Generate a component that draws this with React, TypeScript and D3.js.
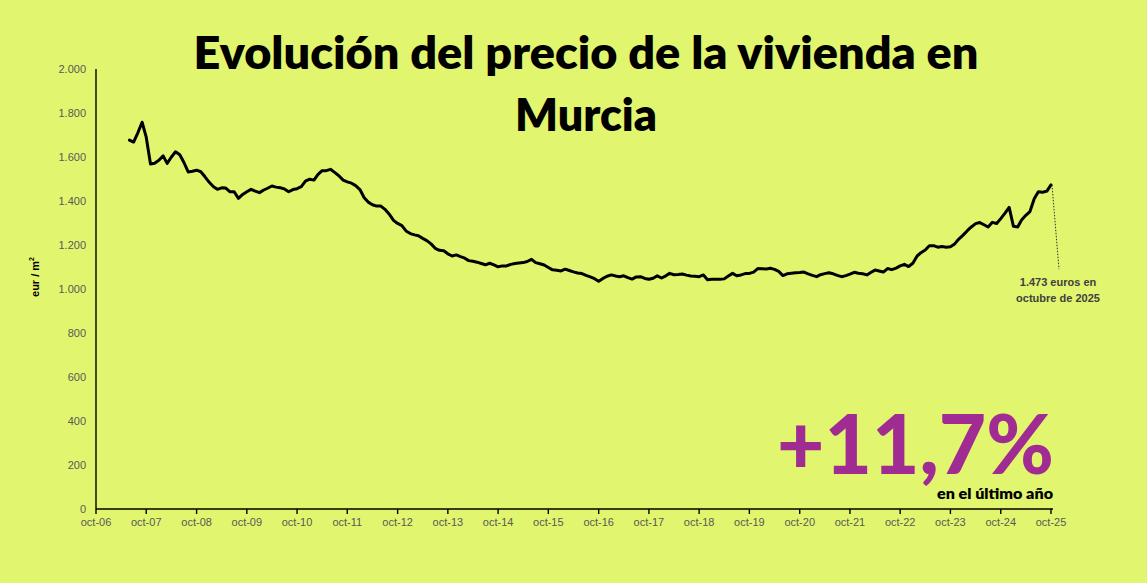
import React from "react";
import * as d3 from "d3";

const W = 1147;
const H = 583;

const titleLines = ["Evolución del precio de la vivienda en", "Murcia"];
const startMonth = "2007-06";
// Monthly €/m² values, Jun 2007 – Oct 2025
const prices = [
  1677, 1668, 1710, 1758, 1690, 1568, 1572, 1585, 1605, 1571, 1600, 1624, 1610, 1575, 1532, 1535,
  1540, 1533, 1510, 1485, 1465, 1453, 1460, 1459, 1442, 1442, 1412, 1430, 1442, 1453, 1445, 1438,
  1450, 1458, 1468, 1463, 1460, 1455, 1442, 1452, 1456, 1465, 1490, 1499, 1495, 1520, 1538, 1538,
  1544, 1530, 1515, 1495, 1487, 1481, 1470, 1452, 1415, 1395, 1383, 1377, 1377, 1362, 1340, 1312,
  1298, 1288, 1264, 1252, 1246, 1242, 1230, 1220, 1205, 1185, 1176, 1174, 1160, 1150, 1155, 1147,
  1140, 1129, 1126, 1122, 1116, 1110, 1117, 1110, 1101, 1105, 1105, 1112, 1116, 1118, 1120, 1125,
  1135, 1120, 1115, 1109, 1098, 1087, 1085, 1082, 1090, 1084, 1078, 1073, 1070, 1062, 1055, 1047,
  1035, 1048, 1058, 1064, 1059, 1056, 1060, 1052, 1045, 1055, 1056, 1048, 1044, 1049, 1060, 1050,
  1060, 1071, 1065, 1066, 1068, 1063, 1059, 1058, 1056, 1064, 1042, 1044, 1044, 1044, 1046, 1059,
  1071, 1060, 1064, 1070, 1071, 1077, 1093, 1092, 1091, 1094, 1089, 1080, 1061, 1069, 1072, 1074,
  1075, 1077, 1069, 1062, 1056, 1065, 1070, 1074, 1069, 1062, 1056, 1061, 1068, 1076, 1072, 1069,
  1064, 1075, 1086, 1082, 1077, 1093, 1088, 1095, 1105, 1112, 1102, 1117, 1150, 1165, 1177, 1197,
  1197, 1190, 1193, 1190, 1192, 1205, 1227, 1245, 1265, 1282, 1297, 1302, 1292, 1282, 1303, 1298,
  1320, 1345, 1371, 1285, 1282, 1314, 1335, 1352, 1410, 1442, 1440, 1445, 1473,
];
const yTicks = [0, 200, 400, 600, 800, 1000, 1200, 1400, 1600, 1800, 2000];
const xTickYears = d3.range(2006, 2026);
const yAxisTitle = "eur / m";
const annotationLines = ["1.473 euros en", "octubre de 2025"];
const bigFigure = "+11,7%";
const bigFigureCaption = "en el último año";

const fmtThousands = (v: number) =>
  v >= 1000 ? `${Math.floor(v / 1000)}.${String(v % 1000).padStart(3, "0")}` : String(v);

export default function App() {
  const start = d3.timeParse("%Y-%m")(startMonth)!;
  const data = prices.map((v, i) => ({ date: d3.timeMonth.offset(start, i), v }));

  const x = d3
    .scaleTime()
    .domain([new Date(2006, 9, 1), new Date(2025, 9, 1)])
    .range([96, 1051]);
  const y = d3.scaleLinear().domain([0, 2000]).range([509, 69]);

  const line = d3
    .line<{ date: Date; v: number }>()
    .x((d) => x(d.date))
    .y((d) => y(d.v));

  const last = data[data.length - 1];
  const lx = x(last.date);
  const ly = y(last.v);

  const axisFont = "'Liberation Sans', Arial, sans-serif";
  const gray = "#595959";

  return (
    <svg width={W} height={H} style={{ display: "block", position: "absolute", left: 0, top: 0 }}>
      <rect x={0} y={0} width={W} height={H} fill="#e1f56e" />

      {/* Title */}
      <g fontFamily="Lato, 'Open Sans', sans-serif" fontWeight={800} fill="#000" textAnchor="middle">
        <text x={586} y={69} fontSize={46} textLength={785} lengthAdjust="spacingAndGlyphs">
          {titleLines[0]}
        </text>
        <text x={586} y={131} fontSize={46} textLength={142} lengthAdjust="spacingAndGlyphs">
          {titleLines[1]}
        </text>
      </g>

      {/* Y axis */}
      <line x1={96} x2={96} y1={y(2000)} y2={y(0)} stroke="#000" strokeWidth={1.4} />
      {yTicks.map((t) => (
        <text
          key={t}
          x={86}
          y={y(t) + 4}
          textAnchor="end"
          fontFamily={axisFont}
          fontSize={11}
          fill={gray}
        >
          {fmtThousands(t)}
        </text>
      ))}
      <text
        transform={`translate(39, 277) rotate(-90)`}
        textAnchor="middle"
        fontFamily={axisFont}
        fontSize={11}
        fontWeight={700}
        fill="#000"
      >
        {yAxisTitle}
        <tspan fontSize={7} dy={-5}>
          2
        </tspan>
      </text>

      {/* X axis */}
      <line x1={96} x2={1053} y1={509} y2={509} stroke="#000" strokeWidth={1.4} />
      {xTickYears.map((yr) => {
        const tx = x(new Date(yr, 9, 1));
        return (
          <g key={yr}>
            <line x1={tx} x2={tx} y1={509} y2={514} stroke="#000" strokeWidth={1.4} />
            <text
              x={tx}
              y={526}
              textAnchor="middle"
              fontFamily={axisFont}
              fontSize={11}
              fill={gray}
            >
              {`oct-${String(yr % 100).padStart(2, "0")}`}
            </text>
          </g>
        );
      })}

      {/* Line */}
      <path
        d={line(data) ?? ""}
        fill="none"
        stroke="#000"
        strokeWidth={3}
        strokeLinejoin="round"
        strokeLinecap="round"
      />

      {/* Annotation */}
      <line
        x1={lx + 1}
        y1={ly}
        x2={lx + 8}
        y2={y(1090)}
        stroke="#333"
        strokeWidth={1}
        strokeDasharray="1.5 1.5"
      />
      <g fontFamily={axisFont} fontSize={11} fontWeight={700} fill="#404040" textAnchor="middle">
        <text x={1058} y={286}>
          {annotationLines[0]}
        </text>
        <text x={1058} y={302}>
          {annotationLines[1]}
        </text>
      </g>

      {/* Big figure */}
      <text
        x={1054}
        y={474}
        textAnchor="end"
        fontFamily="Lato, 'Open Sans', sans-serif"
        fontWeight={900}
        fontSize={82}
        textLength={277}
        lengthAdjust="spacingAndGlyphs"
        fill="#a02c93"
      >
        {bigFigure}
      </text>
      <text
        x={1053}
        y={499}
        textAnchor="end"
        fontFamily="Lato, 'Open Sans', sans-serif"
        fontWeight={800}
        fontSize={14}
        textLength={116}
        lengthAdjust="spacingAndGlyphs"
        fill="#000"
      >
        {bigFigureCaption}
      </text>
    </svg>
  );
}
